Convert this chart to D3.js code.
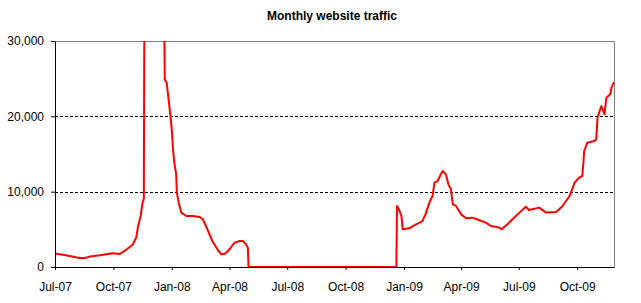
<!DOCTYPE html>
<html>
<head>
<meta charset="utf-8">
<script src="https://cdn.jsdelivr.net/npm/d3@7"></script>
<style>
  html, body { margin: 0; padding: 0; background: #fff; }
  svg { display: block; }
  svg text { font-family: "Liberation Sans", Arial, sans-serif; }
</style>
</head>
<body>
<div id="graph"><svg></svg></div>
<script>
let dates = [
  "2007-07-01", "2007-07-18", "2007-08-09", "2007-08-17", "2007-08-25", "2007-09-10",
  "2007-09-30", "2007-10-11", "2007-10-22", "2007-10-31", "2007-11-06", "2007-11-09",
  "2007-11-13", "2007-11-16", "2007-11-18", "2007-11-19", "2007-11-28", "2007-12-08",
  "2007-12-20", "2007-12-21", "2007-12-24", "2007-12-27", "2007-12-30", "2008-01-01",
  "2008-01-03", "2008-01-05", "2008-01-08", "2008-01-09", "2008-01-12", "2008-01-16",
  "2008-01-24", "2008-02-03", "2008-02-14", "2008-02-19", "2008-02-24", "2008-03-05",
  "2008-03-13", "2008-03-19", "2008-03-25", "2008-04-01", "2008-04-09", "2008-04-17",
  "2008-04-22", "2008-04-27", "2008-04-30", "2008-05-01", "2008-12-20", "2008-12-21",
  "2008-12-24", "2008-12-28", "2008-12-30", "2009-01-09", "2009-01-20", "2009-01-30",
  "2009-02-04", "2009-02-10", "2009-02-15", "2009-02-18", "2009-02-23", "2009-02-28",
  "2009-03-03", "2009-03-08", "2009-03-12", "2009-03-16", "2009-03-19", "2009-03-24",
  "2009-04-01", "2009-04-09", "2009-04-19", "2009-04-30", "2009-05-10", "2009-05-18",
  "2009-05-31", "2009-06-04", "2009-06-13", "2009-06-21", "2009-07-02", "2009-07-12",
  "2009-07-17", "2009-08-02", "2009-08-13", "2009-08-29", "2009-09-08", "2009-09-19",
  "2009-09-27", "2009-10-04", "2009-10-09", "2009-10-11", "2009-10-12", "2009-10-17",
  "2009-10-28", "2009-10-31", "2009-11-02", "2009-11-08", "2009-11-13", "2009-11-16",
  "2009-11-22", "2009-11-24", "2009-11-28"
];
let visits = [
  1780, 1550, 1200, 1200, 1380, 1550,
  1820, 1730, 2350, 2920, 3900, 5440,
  6770, 8540, 9000, 38000, 45000, 42000,
  34000, 24900, 24470, 22250, 20040, 18270,
  15620, 13850, 12300, 9870, 8540, 7220,
  6770, 6770, 6640, 6330, 5440, 3450,
  2350, 1690, 1750, 2350, 3240, 3450,
  3450, 3010, 2570, 0, 0, 8100,
  7660, 6770, 5000, 5130, 5660, 6100,
  6990, 8540, 9420, 11200, 11410, 12300,
  12740, 12300, 10970, 10310, 8320, 8100,
  6990, 6460, 6550, 6200, 5890, 5440,
  5230, 5000, 5660, 6330, 7220, 8010,
  7560, 7880, 7220, 7300, 8100, 9420,
  11200, 11860, 12080, 14070, 15390, 16510,
  16720, 16950, 19830, 21370, 20260, 22480,
  22920, 23810, 24550
];
let yTicks = [0, 10000, 20000, 30000];
let gridValues = [10000, 20000];
let xStart = "2007-07-01";
let xEnd = "2009-11-28";

// Margin Convention
let margins = { top: 41, right: 27, bottom: 36, left: 55 };
let outerWidth = 641;
let outerHeight = 303;
let innerWidth = outerWidth - margins.left - margins.right;
let innerHeight = outerHeight - margins.top - margins.bottom;

let parse = d3.timeParse("%Y-%m-%d");
let data = dates.map((d, i) => ({ date: parse(d), value: visits[i] }));

let root = d3.select("div#graph svg")
  .attr("width", outerWidth)
  .attr("height", outerHeight);

// title
root.append("text")
  .attr("x", 332)
  .attr("y", 20)
  .attr("text-anchor", "middle")
  .style("font-size", "12px")
  .style("font-weight", "bold")
  .text("Monthly website traffic");

let svg = root.append("g")
  .attr("transform", "translate(" + margins.left + "," + margins.top + ")");

let xScale = d3.scaleTime()
  .domain([parse(xStart), parse(xEnd)])
  .range([0, innerWidth]);

let yScale = d3.scaleLinear()
  .domain([0, 30000])
  .range([innerHeight, 0]);

// clip for the spike that goes off the top
svg.append("clipPath")
  .attr("id", "plot-clip")
  .append("rect")
  .attr("x", 0)
  .attr("y", 0)
  .attr("width", innerWidth + 1)
  .attr("height", innerHeight + 1);

// dashed gridlines
svg.selectAll(".grid")
  .data(gridValues)
  .enter()
  .append("line")
  .attr("class", "grid")
  .attr("x1", 0)
  .attr("x2", innerWidth)
  .attr("y1", d => Math.round(yScale(d)) + 0.5)
  .attr("y2", d => Math.round(yScale(d)) + 0.5)
  .style("stroke", "#000")
  .style("stroke-dasharray", "3,2");

// grey top and right border
svg.append("path")
  .attr("d", "M0.5,0.5H" + (innerWidth + 0.5) + "V" + (innerHeight + 0.5))
  .style("fill", "none")
  .style("stroke", "#808080");

// the line
let line = d3.line()
  .x(d => xScale(d.date))
  .y(d => yScale(d.value));

svg.append("path")
  .datum(data)
  .attr("clip-path", "url(#plot-clip)")
  .attr("d", line)
  .style("fill", "none")
  .style("stroke", "#ff0000")
  .style("stroke-width", 2)
  .style("stroke-linejoin", "round");

// axes
let yAxis = svg.append("g")
  .call(d3.axisLeft(yScale)
    .tickValues(yTicks)
    .tickFormat(d3.format(","))
    .tickSize(4)
    .tickSizeOuter(0)
    .tickPadding(7));

let xAxis = svg.append("g")
  .attr("transform", "translate(0," + innerHeight + ")")
  .call(d3.axisBottom(xScale)
    .ticks(d3.timeMonth.every(3))
    .tickFormat(d3.timeFormat("%b-%y"))
    .tickSize(3)
    .tickSizeOuter(0)
    .tickPadding(12));

[yAxis, xAxis].forEach(a => {
  a.attr("font-family", null).attr("font-size", null);
  a.selectAll("text").style("font-size", "12px").style("fill", "#000");
  a.selectAll("line, path").style("stroke", "#000");
});
</script>
</body>
</html>
